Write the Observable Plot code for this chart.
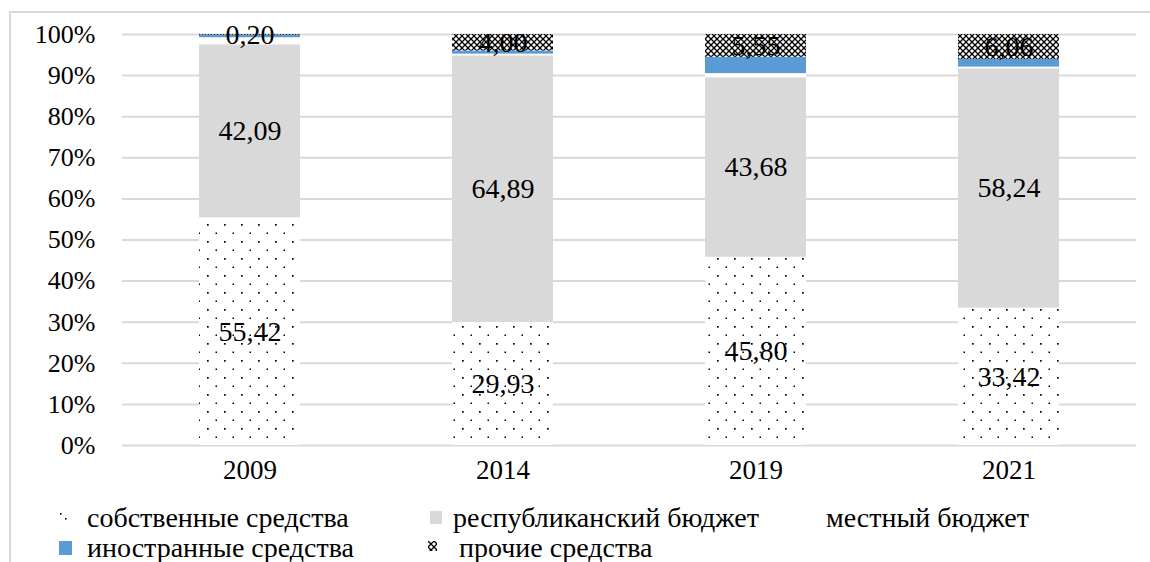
<!DOCTYPE html>
<html>
<head>
<meta charset="utf-8">
<script src="https://cdn.jsdelivr.net/npm/d3@7"></script>
<script src="https://cdn.jsdelivr.net/npm/@observablehq/plot@0.6"></script>
<style>
  body { margin: 0; background: #fff; }
  #wrap { position: relative; width: 1150px; height: 562px; overflow: hidden; font-family: "Liberation Serif", "Times New Roman", serif; color: #000; }
  #frame { position: absolute; left: 9px; top: 11px; width: 1300px; height: 700px; border-left: 2px solid #d9d9d9; border-top: 2px solid #d9d9d9; pointer-events: none; }
  .lg { position: absolute; font-size: 28px; line-height: 30px; white-space: nowrap; }
  .sw { position: absolute; }
</style>
</head>
<body>
<div id="wrap"></div>
<script>
const years = ["2009", "2014", "2019", "2021"];
const seriesNames = ["собственные средства", "республиканский бюджет", "местный бюджет", "иностранные средства", "прочие средства"];
const ownFunds      = [55.42, 29.93, 45.80, 33.42];
const republicanBud = [42.09, 64.89, 43.68, 58.24];
const localBud      = [1.70, 0.40, 1.00, 0.40];
const foreignFunds  = [0.59, 0.78, 3.97, 1.88];
const otherFunds    = [0.20, 4.00, 5.55, 6.06];
const labeledSeries = ["собственные средства", "республиканский бюджет", "прочие средства"];
const yTicks = [0, 10, 20, 30, 40, 50, 60, 70, 80, 90, 100];
const yTickLabels = ["0%", "10%", "20%", "30%", "40%", "50%", "60%", "70%", "80%", "90%", "100%"];

const fills = ["url(#dotsPat)", "#d9d9d9", "#ffffff", "#5b9bd5", "url(#hatchPat)"];
const seriesValues = [ownFunds, republicanBud, localBud, foreignFunds, otherFunds];

const table = [];
seriesNames.forEach((s, i) => {
  years.forEach((y, j) => table.push({year: y, series: s, value: seriesValues[i][j]}));
});
const fmt = v => v.toFixed(2).replace(".", ",");

const plot = Plot.plot({
  width: 1150,
  height: 490,
  marginLeft: 122,
  marginRight: 14,
  marginTop: 34,
  marginBottom: 45,
  style: {fontFamily: "'Liberation Serif', 'Times New Roman', serif", fontSize: "26px", color: "#000", background: "transparent"},
  x: {domain: years, paddingInner: 0.6, paddingOuter: 0.3, label: null},
  y: {domain: [0, 100], label: null},
  color: {domain: seriesNames, range: fills},
  marks: [
    Plot.gridY(yTicks, {stroke: "#d9d9d9", strokeOpacity: 1, strokeWidth: 2}),
    Plot.axisY(yTicks, {tickFormat: (d) => yTickLabels[yTicks.indexOf(d)], tickSize: 0, tickPadding: 27, fontSize: 26, label: null, fill: "#000"}),
    Plot.axisX({tickSize: 0, tickPadding: 14, fontSize: 27, label: null, fill: "#000"}),
    Plot.barY(table, {x: "year", y: "value", z: "series", fill: "series"}),
    Plot.text(table, Plot.stackY({
      x: "year", y: "value", z: "series",
      text: d => labeledSeries.includes(d.series) ? fmt(d.value) : null,
      fontSize: 28, fill: "#000"
    }))
  ]
});

// patterns
const ns = "http://www.w3.org/2000/svg";
const defs = document.createElementNS(ns, "defs");
defs.innerHTML = `
  <pattern id="dotsPat" patternUnits="userSpaceOnUse" width="17" height="17">
    <rect width="17" height="17" fill="#fff"/>
    <rect x="3" y="3" width="1.7" height="1.7" fill="#000"/>
    <rect x="11.5" y="11.5" width="1.5" height="1.5" fill="#000"/>
  </pattern>
  <pattern id="hatchPat" patternUnits="userSpaceOnUse" width="6" height="6">
    <rect width="6" height="6" fill="#fff"/>
    <path d="M0,0L6,6M6,0L0,6" stroke="#000" stroke-width="1.3"/>
  </pattern>
  <pattern id="dotsSw" patternUnits="userSpaceOnUse" width="12" height="12">
    <rect width="12" height="12" fill="#fff"/>
    <rect x="2" y="2" width="1.6" height="1.6" fill="#000"/>
    <rect x="7" y="7" width="1.6" height="1.6" fill="#000"/>
  </pattern>`;
plot.insertBefore(defs, plot.firstChild);

const wrap = document.getElementById("wrap");
wrap.appendChild(plot);
plot.style.position = "absolute";
plot.style.left = "0px";
plot.style.top = "0px";

const frame = document.createElement("div");
frame.id = "frame";
wrap.appendChild(frame);

// legend
const legendFills = ["url(#dotsSw)", fills[1], fills[2], fills[3], fills[4]];
const legendItems = [
  {i: 0, sx: 58, sy: 511, sw: 12, sh: 12, tx: 87, ty: 503},
  {i: 1, sx: 430, sy: 511, sw: 12, sh: 13, tx: 453, ty: 503},
  {i: 2, sx: 800, sy: 511, sw: 12, sh: 13, tx: 826, ty: 503},
  {i: 3, sx: 59, sy: 541, sw: 13, sh: 14, tx: 87, ty: 533},
  {i: 4, sx: 428, sy: 541, sw: 9, sh: 10, tx: 459, ty: 533}
];
legendItems.forEach(it => {
  const s = document.createElementNS(ns, "svg");
  s.setAttribute("width", it.sw);
  s.setAttribute("height", it.sh);
  s.setAttribute("class", "sw");
  s.style.left = it.sx + "px";
  s.style.top = it.sy + "px";
  const r = document.createElementNS(ns, "rect");
  r.setAttribute("width", it.sw);
  r.setAttribute("height", it.sh);
  r.setAttribute("fill", legendFills[it.i]);
  s.appendChild(r);
  wrap.appendChild(s);
  const t = document.createElement("div");
  t.className = "lg";
  t.style.left = it.tx + "px";
  t.style.top = it.ty + "px";
  t.textContent = seriesNames[it.i];
  wrap.appendChild(t);
});
</script>
</body>
</html>
